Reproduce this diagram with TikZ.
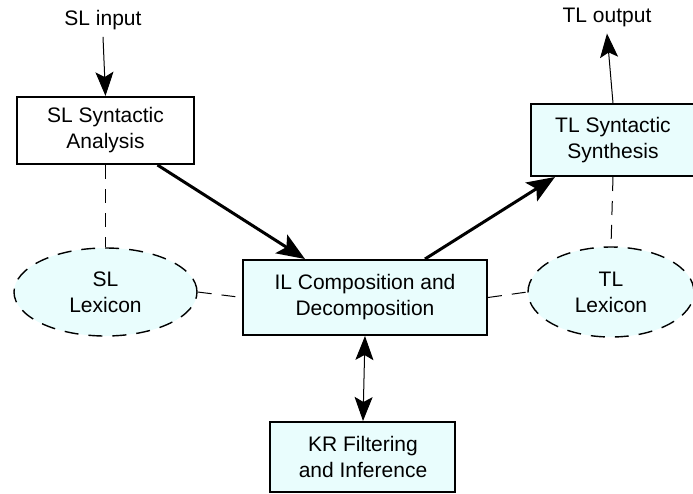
\documentclass[tikz,border=0pt]{standalone}
\usepackage{fontspec}
\setmainfont{Liberation Sans}
\usepackage{tikz}
\usetikzlibrary{shapes,arrows.meta}
\definecolor{lexfill}{HTML}{E9FDFD}

\begin{document}
\begin{tikzpicture}[x=0.5pt,y=-0.5pt,font=\fontsize{10.5}{13}\selectfont]

	\tikzstyle{module}=[draw,rectangle,line width=1pt,align=center,inner sep=0pt,fill=lexfill]
	\tikzstyle{lexicon}=[draw,ellipse,dashed,dash pattern=on 7pt off 5pt,line width=0.7pt,fill=lexfill,align=center,inner sep=0pt]
	\tikzstyle{flow}=[-{Stealth[length=12pt,width=9pt,inset=2.5pt]},line width=0.5pt]
	\tikzstyle{mainflow}=[-{Stealth[length=14pt,width=11pt,inset=3pt]},line width=1.5pt]
	\tikzstyle{link}=[dashed,dash pattern=on 7pt off 5pt,line width=0.5pt]

	\useasboundingbox (0,0) rectangle (693,494);

	\node (slin) at (103,20) {SL input};
	\node (tlout) at (607,17) {TL output};

	\node[module,fill=white,minimum width=88.5pt,minimum height=33.5pt] (slsyn) at (105.5,130.5) {SL Syntactic\\Analysis};
	\node[module,minimum width=82pt,minimum height=36pt] (tlsyn) at (613,140) {TL Syntactic\\Synthesis};
	\node[module,minimum width=122pt,minimum height=37.5pt] (il) at (365,297.5) {IL Composition and\\Decomposition};
	\node[module,minimum width=92.5pt,minimum height=35pt] (kr) at (363,457) {KR Filtering\\and Inference};

	\node[lexicon,minimum width=91.5pt,minimum height=44pt] (sllex) at (105.5,292) {SL\\Lexicon};
	\node[lexicon,minimum width=83pt,minimum height=45pt] (tllex) at (611,292) {TL\\Lexicon};

	\draw[flow] (slin.south) -- (slsyn.north);
	\draw[flow] (tlsyn.north) -- (tlout.south);

	\draw[mainflow] ([xshift=26pt]slsyn.south) -- ([xshift=-30pt]il.north);
	\draw[mainflow] ([xshift=30pt]il.north) -- ([xshift=-29pt]tlsyn.south);

	\draw[{Stealth[length=12pt,width=9pt,inset=2.5pt]}-{Stealth[length=12pt,width=9pt,inset=2.5pt]},line width=0.5pt] (il.south) -- (kr.north);

	\draw[link] (slsyn.south) -- (sllex.north);
	\draw[link] (sllex.east) -- (il.west);
	\draw[link] (il.east) -- (tllex.west);
	\draw[link] (tlsyn.south) -- (tllex.north);

\end{tikzpicture}
\end{document}
